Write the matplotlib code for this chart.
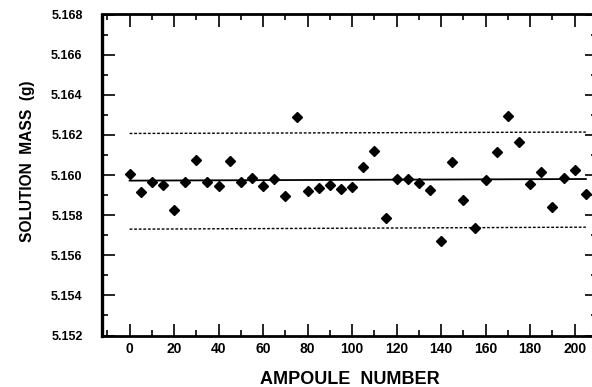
import matplotlib
matplotlib.use("Agg")
import matplotlib.pyplot as plt
from matplotlib.ticker import MultipleLocator
import numpy as np

# ampoule numbers and measured solution masses (g)
ampoule = np.arange(0, 210, 5)
mass = [5.16005, 5.15915, 5.15965, 5.15952, 5.15827, 5.15965, 5.16075, 5.15965,
        5.15944, 5.16069, 5.15965, 5.15987, 5.15947, 5.15979, 5.15897, 5.16289,
        5.15919, 5.15937, 5.15950, 5.15930, 5.15939, 5.16040, 5.16122, 5.15785,
        5.15980, 5.15982, 5.15962, 5.15924, 5.15673, 5.16065, 5.15874, 5.15737,
        5.15975, 5.16115, 5.16295, 5.16165, 5.15955, 5.16017, 5.15839, 5.15985,
        5.16027, 5.15905]

# mean and limit lines (end points)
line_x = [0, 205]
mean_line = [5.15972, 5.15980]
upper_line = [5.16207, 5.16214]
lower_line = [5.15730, 5.15740]

xticks = np.arange(0, 201, 20)
yticks = np.arange(5.152, 5.1681, 0.002)

plt.rcParams['font.family'] = ['Liberation Sans', 'DejaVu Sans']
plt.rcParams['font.weight'] = 'bold'

fig = plt.figure(figsize=(5.92, 3.87), dpi=100)
ax = fig.add_axes([102/592, 51.5/387, 495/592, 321/387])

ax.plot(ampoule, mass, linestyle='none', marker='D', markersize=5.4,
        color='black')
ax.plot(line_x, mean_line, color='black', linewidth=1.3)
ax.plot(line_x, upper_line, color='black', linewidth=1.0, linestyle=(0, (2, 1.3)))
ax.plot(line_x, lower_line, color='black', linewidth=1.0, linestyle=(0, (2, 1.3)))

ax.set_xlim(-12.4, 210)
ax.set_ylim(5.152, 5.168)
ax.set_xticks(xticks)
ax.set_yticks(yticks)
ax.set_yticklabels(["%.3f" % v for v in yticks])
ax.xaxis.set_minor_locator(MultipleLocator(10))
ax.yaxis.set_minor_locator(MultipleLocator(0.001))

ax.tick_params(which='both', direction='in', top=True, right=True, width=1.2)
ax.tick_params(which='major', length=9)
ax.tick_params(which='minor', length=4.5)
ax.tick_params(axis='y', pad=14, labelsize=9)
ax.tick_params(axis='x', pad=4.5, labelsize=10)
for lab in ax.get_xticklabels() + ax.get_yticklabels():
    lab.set_fontweight('bold')

for sp in ax.spines.values():
    sp.set_linewidth(2)
ax.spines['left'].set_linewidth(2.4)

fig.text(28/592, 1 - 161/387, "SOLUTION  MASS  (g)", rotation=90,
         ha='center', va='center', fontsize=11.2, fontweight='bold')
fig.text(350/592, 1 - 379/387, "AMPOULE  NUMBER", ha='center', va='center',
         fontsize=13, fontweight='bold')

fig.savefig("out.png", dpi=100)
